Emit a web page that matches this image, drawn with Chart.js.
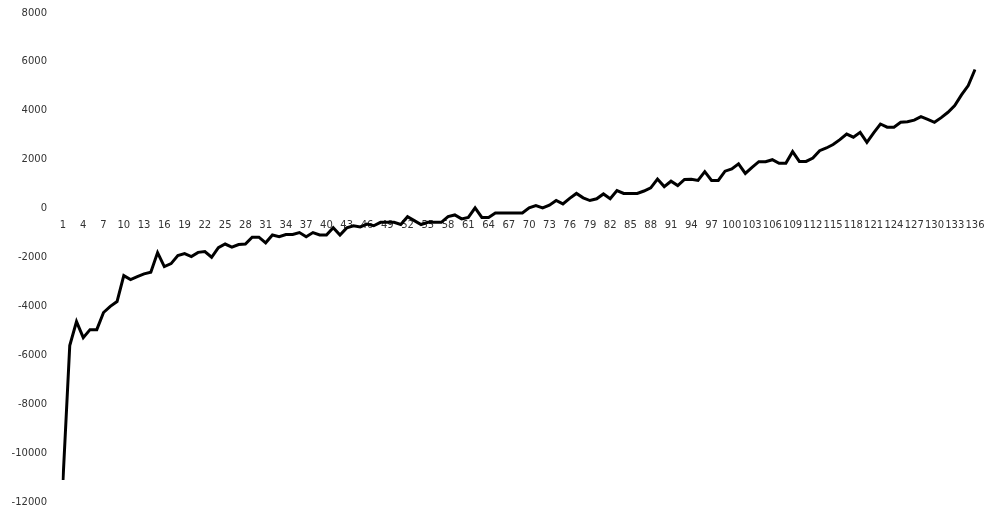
<!DOCTYPE html>
<html>
<head>
<meta charset="utf-8">
<script src="https://cdn.jsdelivr.net/npm/chart.js@4/dist/chart.umd.min.js"></script>
<style>
html,body{margin:0;padding:0;background:#fff;}
#wrap{width:988px;height:511px;position:relative;}
</style>
</head>
<body>
<div id="wrap"><canvas id="c" width="988" height="511"></canvas></div>
<script>
const categories = Array.from({length: 136}, (_, i) => String(i + 1));
const values = [
  -11100, -5600, -4620, -5280, -4950, -4950, -4250, -4000, -3800, -2740,
  -2900, -2780, -2670, -2600, -1800, -2370, -2250, -1920, -1840, -1960,
  -1790, -1760, -1990, -1600, -1450, -1580, -1470, -1450, -1170, -1170,
  -1400, -1080, -1150, -1060, -1060, -980, -1150, -980, -1080, -1080,
  -780, -1080, -790, -700, -750, -630, -700, -560, -560, -560,
  -650, -330, -490, -650, -560, -560, -560, -330, -260, -420,
  -360, 30, -360, -360, -180, -180, -180, -180, -180, 30,
  120, 30, 140, 330, 190, 420, 620, 440, 330, 400,
  600, 400, 740, 620, 620, 620, 720, 850, 1210, 900,
  1120, 940, 1190, 1200, 1150, 1510, 1150, 1150, 1530, 1620,
  1830, 1440, 1690, 1920, 1920, 2000, 1850, 1850, 2330, 1930,
  1930, 2070, 2370, 2480, 2620, 2820, 3050, 2920, 3120, 2710,
  3100, 3460, 3330, 3330, 3530, 3550, 3620, 3760, 3650, 3530,
  3720, 3940, 4210, 4650, 5030, 5690
];
const yTicks = [-12000, -10000, -8000, -6000, -4000, -2000, 0, 2000, 4000, 6000, 8000];
const labelEvery = 3;

new Chart(document.getElementById('c'), {
  type: 'line',
  data: {
    labels: categories,
    datasets: [{
      data: values,
      borderColor: '#000000',
      borderWidth: 3,
      pointRadius: 0,
      tension: 0,
      fill: false
    }]
  },
  options: {
    responsive: false,
    animation: false,
    layout: { padding: { left: 0, right: 13, top: 13, bottom: 9 } },
    plugins: { legend: { display: false }, tooltip: { enabled: false } },
    scales: {
      x: {
        type: 'category',
        position: { y: 0 },
        offset: false,
        afterFit: function(s) { s.height = 0; s.paddingLeft = 0; s.paddingRight = 0; s.paddingTop = 0; s.paddingBottom = 0; },
        grid: { display: false, drawTicks: false },
        border: { display: false },
        ticks: {
          autoSkip: false,
          maxRotation: 0,
          minRotation: 0,
          padding: 11,
          color: '#333',
          font: { family: 'DejaVu Sans', size: 10 },
          callback: function(v, i) { return i % labelEvery === 0 ? categories[i] : ''; }
        }
      },
      y: {
        min: yTicks[0],
        max: yTicks[yTicks.length - 1],
        afterFit: function(s) { s.width = 63; s.paddingTop = 0; s.paddingBottom = 0; s.paddingLeft = 0; s.paddingRight = 0; },
        afterBuildTicks: function(s) { s.ticks = yTicks.map(v => ({ value: v })); },
        grid: { display: false, drawTicks: false },
        border: { display: false },
        ticks: {
          padding: 16,
          color: '#333',
          font: { family: 'DejaVu Sans', size: 10 },
          callback: function(v) { return String(v); }
        }
      }
    }
  }
});
</script>
</body>
</html>
